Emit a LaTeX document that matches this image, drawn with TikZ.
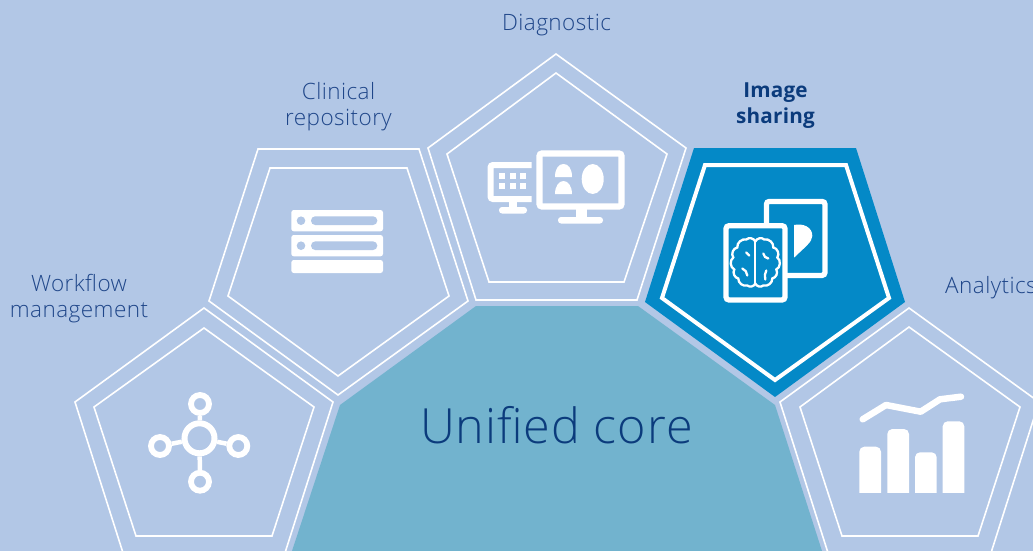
\documentclass[tikz,border=0pt]{standalone}
\usepackage{fontspec}
\setmainfont{Open Sans}
\newfontfamily\lightf[LetterSpace=2]{Open Sans Light}
\newfontfamily\boldf[LetterSpace=1]{Open Sans}
\definecolor{bgc}{HTML}{B2C7E6}
\definecolor{corec}{HTML}{72B3CE}
\definecolor{activec}{HTML}{0489C7}
\definecolor{labelc}{HTML}{1F4689}
\definecolor{titlec}{HTML}{0B3B7C}
\begin{document}
\begin{tikzpicture}[x=1pt,y=-1pt,line join=miter,
  penta/.style={draw=white,line width=1.6pt},
  pentabold/.style={draw=white,line width=4pt},
  hole/.style={fill=bgc,draw=none},
  lab/.style={text=labelc,font=\lightf\fontsize{22.5}{26}\selectfont,align=center,inner sep=0pt},
  brainline/.style={draw=white,line width=2.3pt,line cap=round}]
\useasboundingbox (0,0) rectangle (1033,551);
\clip (0,0) rectangle (1033,551);
\fill[bgc] (0,0) rectangle (1033,551);
% core
\fill[corec] (476,306) -- (638,306) -- (775,405) -- (822,551) -- (292,551) -- (340,405) -- cycle;
% pentagons
\draw[penta] (556,54) -- (686,148) -- (637,300) -- (476,300) -- (428,148) -- cycle;
\draw[penta] (556,73) -- (667,154) -- (624,282) -- (489,282) -- (447,154) -- cycle;
\draw[penta] (258,149) -- (419,149) -- (468,301) -- (338,395) -- (209,301) -- cycle;
\draw[penta] (270,168) -- (407,168) -- (449,296) -- (338,376) -- (228,296) -- cycle;
\draw[penta] (204,308) -- (333,402) -- (284,556) -- (124,556) -- (75,402) -- cycle;
\draw[penta] (204,328) -- (314,407) -- (272,536) -- (136,536) -- (94,407) -- cycle;
\draw[penta] (909,308) -- (1039,402) -- (990,556) -- (829,556) -- (780,402) -- cycle;
\draw[penta] (909,327) -- (1020,407) -- (978,536) -- (842,536) -- (800,407) -- cycle;
\fill[activec] (694,148) -- (856,148) -- (905,302) -- (775,397) -- (645,302) -- cycle;
\draw[pentabold] (705,165) -- (846,165) -- (889,298) -- (775,380) -- (662,298) -- cycle;
% diagnostic icon
\draw[draw=white,line width=6.2pt,rounded corners=2.5pt] (539.5,153.5) rectangle (621.5,206.5);
\fill[white] (576,209) rectangle (587,219);
\fill[white,rounded corners=3pt] (558,217) rectangle (603,223.5);
\draw[draw=white,line width=6pt,rounded corners=2.5pt] (531.5,165) -- (490.5,165) -- (490.5,199) -- (531.5,199);
\fill[white] (509,201) rectangle (517,209);
\fill[white,rounded corners=3pt] (499,207) rectangle (527,213.5);
\foreach \xx in {499,510,520}{\foreach \yy in {173,183}{\fill[white] (\xx,\yy) rectangle +(6,6);}}
\fill[white] (592.7,179) ellipse [x radius=11,y radius=15];
\fill[white] (555,177) .. controls (555,168) and (559,164) .. (563.5,164) .. controls (568,164) and (572,168) .. (572,177) -- cycle;
\fill[white] (555,194) .. controls (555,186) and (559,181) .. (563.5,181) .. controls (568,181) and (572,186) .. (572,194) -- cycle;
% repository icon
\fill[white,rounded corners=2.5pt] (291.3,210) rectangle (383,231.3);
\fill[white,rounded corners=2.5pt] (291.3,235) rectangle (383,256.3);
\fill[white,rounded corners=2.5pt] (291.3,260) rectangle (383,273);
\fill[hole] (301,220.7) circle (4.3);
\fill[hole] (301,245.7) circle (4.3);
\fill[hole,rounded corners=4.2pt] (311,216.3) rectangle (377.3,225);
\fill[hole,rounded corners=4.2pt] (311,241.4) rectangle (377.3,250);
% network icon
\node[circle,draw=white,line width=6pt,minimum size=30pt,inner sep=0pt] (hub) at (199.5,438.3) {};
\node[circle,draw=white,line width=5.8pt,minimum size=18pt,inner sep=0pt] (sat1) at (200,404) {};
\node[circle,draw=white,line width=5.8pt,minimum size=18pt,inner sep=0pt] (sat2) at (200,481.7) {};
\node[circle,draw=white,line width=5.8pt,minimum size=18pt,inner sep=0pt] (sat3) at (160,446) {};
\node[circle,draw=white,line width=5.8pt,minimum size=18pt,inner sep=0pt] (sat4) at (238.3,446) {};
\draw[white,line width=4.5pt] (hub) -- (sat1);
\draw[white,line width=4.5pt] (hub) -- (sat2);
\draw[white,line width=4.5pt] (hub) -- (sat3);
\draw[white,line width=4.5pt] (hub) -- (sat4);
% chart icon
\draw[white,line width=6.5pt,line cap=round,line join=round] (862.7,419.3) -- (886,405) -- (920.7,411.7) -- (940,399.3) -- (961,396.7);
\fill[white,rounded corners=5pt] (859.3,500) -- (859.3,446.7) -- (881,446.7) -- (881,500) -- cycle;
\fill[white,rounded corners=5pt] (887.3,500) -- (887.3,429) -- (909,429) -- (909,500) -- cycle;
\fill[white,rounded corners=5pt] (915,500) -- (915,452.3) -- (936.7,452.3) -- (936.7,500) -- cycle;
\fill[white,rounded corners=5pt] (942.7,500) -- (942.7,421.3) -- (964.3,421.3) -- (964.3,500) -- cycle;
\fill[bgc] (855,493.3) rectangle (970,503);
% image sharing icon
\draw[draw=white,fill=activec,line width=5.3pt,rounded corners=3pt] (766.4,201.4) rectangle (825,275.4);
\fill[white] (794,225) .. controls (803,223) and (812.5,227) .. (812.3,236) .. controls (812.2,242) and (805,247) .. (794,257.7) -- cycle;
\draw[draw=white,fill=activec,line width=5.3pt,rounded corners=3pt] (726,225.7) rectangle (785,300);
% brain
\begin{scope}[shift={(755.3,262.5)}]
\draw[brainline] (0,-21) -- (0,21);
\foreach \sx in {1,-1}{
\begin{scope}[xscale=\sx]
\draw[brainline] (0,-21) to[bend left=55] (9,-23) to[bend left=55] (18,-15) to[bend left=60] (22,-5) to[bend left=60] (21,7) to[bend left=55] (17,16) to[bend left=55] (8,23) to[bend left=55] (0,21);
\end{scope}}
\draw[brainline] (8,-9) to[bend right=35] (13,-4);
\draw[brainline] (11,8) to[bend right=20] (10,17);
\draw[brainline] (-9,-10) to[bend left=20] (-6,-7);
\draw[brainline] (-13,6) to[bend left=30] (-8,13);
\end{scope}
% labels
\node[lab] (diag) at (556.5,25) {Diagnostic};
\node[lab] (clin) at (338.5,107) {Clinical\\repository};
\node[lab,font=\boldf\bfseries\fontsize{20.7}{26}\selectfont,text=titlec] (share) at (775.5,105.5) {Image\\sharing};
\node[lab] (work) at (79,299) {Workflow\\management};
\node[lab,anchor=west] (anal) at (945,287.5) {Analytics};
\node[text=titlec,font=\lightf\fontsize{48.5}{50}\selectfont,inner sep=0pt] (core) at (556.5,425) {Unified core};
\end{tikzpicture}
\end{document}
